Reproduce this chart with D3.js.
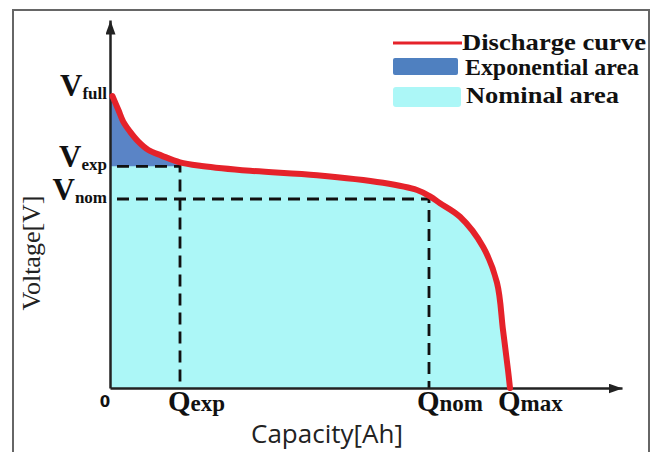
<!DOCTYPE html>
<meta charset="utf-8">
<style>
  body { margin: 0; background: #fff; }
  svg { display: block; }
</style>
<body>
<script src="https://d3js.org/d3.v7.min.js"></script>
<script>
  // discharge curve (capacity and voltage in arbitrary units)
  var capacity = [0.6, 2.1, 3.3, 5, 7.1, 9.6, 12.9, 17.5, 22.9, 35, 51.75, 68.25, 76.75, 80, 82.5, 87.5, 93.25, 96.75, 98.25, 99.5, 100];
  var voltage  = [73, 69.5, 66.6, 64.1, 61.6, 59.5, 58.1, 56.4, 55.5, 54.3, 53.2, 51.3, 49.5, 47.9, 46.2, 42.8, 35.3, 26.3, 14.5, 4.5, 0];

  var vNames  = ["full", "exp", "nom"];
  var vValues = [73.25, 55.4, 47.25];
  var qNames  = ["exp", "nom", "max"];
  var qValues = [17.5, 79.75, 100];

  var legendNames = ["Discharge curve", "Exponential area", "Nominal area"];

  var data = capacity.map(function(q, i) { return {q: q, v: voltage[i]}; });

  var svg = d3.select("body").append("svg")
          .attr("width", 659)
          .attr("height", 452);

  var x = d3.scaleLinear().domain([0, 128]).range([110, 622]);
  var y = d3.scaleLinear().domain([0, 92]).range([388, 20]);

  var red = "#e5222a", blue = "#5a84c6", cyan = "#acf7f7";

  // outer frame
  svg.append("rect")
          .attr("x", 13).attr("y", 10)
          .attr("width", 636).attr("height", 460)
          .attr("fill", "none")
          .attr("stroke", "#666")
          .attr("stroke-width", 2);

  svg.append("defs").append("marker")
          .attr("id", "arrow")
          .attr("viewBox", "0 0 14 10")
          .attr("refX", 14).attr("refY", 5)
          .attr("markerWidth", 14).attr("markerHeight", 10)
          .attr("markerUnits", "userSpaceOnUse")
          .attr("orient", "auto")
          .append("path")
          .attr("d", "M0,0L14,5L0,10Z")
          .attr("fill", "#222");

  svg.select("defs").append("clipPath")
          .attr("id", "expClip")
          .append("rect")
          .attr("x", x(0)).attr("y", 0)
          .attr("width", x(qValues[0]) - x(0))
          .attr("height", y(vValues[1]));

  var curve = d3.curveCatmullRom.alpha(0.5);
  var filled = [{q: 0, v: voltage[0]}].concat(data);

  // nominal area: everything under the curve
  svg.append("path")
          .datum(filled)
          .attr("d", d3.area().curve(curve)
                  .x(function(d) { return x(d.q); })
                  .y0(y(0))
                  .y1(function(d) { return y(d.v); }))
          .attr("fill", cyan);

  // exponential area: between curve and V_exp
  svg.append("path")
          .datum(filled)
          .attr("clip-path", "url(#expClip)")
          .attr("d", d3.area().curve(curve)
                  .x(function(d) { return x(d.q); })
                  .y0(y(vValues[1]))
                  .y1(function(d) { return y(d.v); }))
          .attr("fill", blue);

  // dashed guides for exp and nom points
  [[qValues[0], vValues[1]], [qValues[1], vValues[2]]].forEach(function(p) {
    svg.append("path")
            .attr("d", "M" + x(0) + "," + y(p[1]) + "H" + x(p[0]) + "V" + y(0))
            .attr("fill", "none")
            .attr("stroke", "#111")
            .attr("stroke-width", 2.8)
            .attr("stroke-dasharray", "12,7")
            .attr("stroke-dashoffset", -7);
  });

  // axes
  var gx = svg.append("g")
          .attr("transform", "translate(0," + y(0) + ")")
          .call(d3.axisBottom(x).tickValues([]).tickSizeOuter(0));
  var gy = svg.append("g")
          .attr("transform", "translate(" + x(0) + ",0)")
          .call(d3.axisLeft(y).tickValues([]).tickSizeOuter(0));
  [gx, gy].forEach(function(g) {
    g.select(".domain")
            .attr("stroke", "#222")
            .attr("stroke-width", 2.5)
            .attr("marker-end", "url(#arrow)");
  });

  // discharge curve
  svg.append("path")
          .datum(data)
          .attr("d", d3.line().curve(curve)
                  .x(function(d) { return x(d.q); })
                  .y(function(d) { return y(d.v); }))
          .attr("fill", "none")
          .attr("stroke", red)
          .attr("stroke-width", 6)
          .attr("stroke-linecap", "round")
          .attr("stroke-linejoin", "round");

  var serif = "'Liberation Serif', 'Times New Roman', serif";

  // V labels
  vNames.forEach(function(name, i) {
    var t = svg.append("text")
            .attr("x", 107)
            .attr("y", y(vValues[i]) + 1)
            .attr("text-anchor", "end")
            .attr("font-family", serif)
            .attr("font-weight", "bold")
            .attr("fill", "#111");
    t.append("tspan").attr("font-size", 31).text("V");
    t.append("tspan").attr("font-size", 17).attr("dy", 3).text(name);
  });

  // Q labels
  qNames.forEach(function(name, i) {
    var t = svg.append("text")
            .attr("x", x(qValues[i]) - 12)
            .attr("y", 411)
            .attr("font-family", serif)
            .attr("font-weight", "bold")
            .attr("fill", "#111");
    t.append("tspan").attr("font-size", 29).text("Q");
    t.append("tspan").attr("font-size", 23).text(name);
  });

  svg.append("text")
          .attr("x", 105).attr("y", 407)
          .attr("text-anchor", "middle")
          .attr("font-family", "'DejaVu Sans', sans-serif")
          .attr("font-weight", "bold")
          .attr("font-size", 15)
          .attr("fill", "#111")
          .text("0");

  // axis titles
  svg.append("text")
          .attr("x", 327).attr("y", 443)
          .attr("text-anchor", "middle")
          .attr("font-family", "'Open Sans', sans-serif")
          .attr("font-size", 26)
          .attr("fill", "#222")
          .text("Capacity[Ah]");

  svg.append("text")
          .attr("transform", "translate(40,253) rotate(-90)")
          .attr("text-anchor", "middle")
          .attr("font-family", serif)
          .attr("font-size", 26)
          .attr("fill", "#222")
          .text("Voltage[V]");

  // legend
  var legend = svg.append("g");
  legend.append("line")
          .attr("x1", 393).attr("x2", 462)
          .attr("y1", 43).attr("y2", 43)
          .attr("stroke", red)
          .attr("stroke-width", 3);
  legend.append("rect")
          .attr("x", 393).attr("y", 58)
          .attr("width", 65).attr("height", 17)
          .attr("rx", 2)
          .attr("fill", "#4f80c0");
  legend.append("rect")
          .attr("x", 393).attr("y", 87)
          .attr("width", 68).attr("height", 20)
          .attr("rx", 3)
          .attr("fill", cyan);
  legend.selectAll("text")
          .data(legendNames)
          .enter()
          .append("text")
          .attr("x", function(d, i) { return [462, 465, 466][i]; })
          .attr("y", function(d, i) { return [50, 75, 103][i]; })
          .attr("textLength", function(d, i) { return [184, 174, 153][i]; })
          .attr("lengthAdjust", "spacingAndGlyphs")
          .attr("font-family", serif)
          .attr("font-weight", "bold")
          .attr("font-size", 24)
          .attr("fill", "#111")
          .text(function(d) { return d; });
</script>
</body>
